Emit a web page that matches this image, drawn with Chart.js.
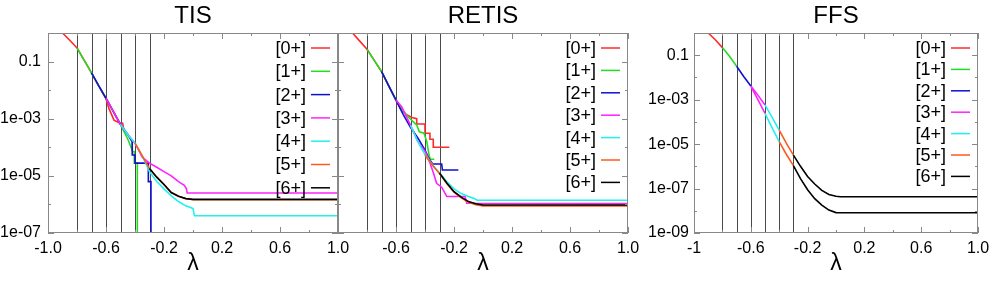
<!DOCTYPE html>
<html>
<head>
<meta charset="utf-8">
<script src="https://cdn.jsdelivr.net/npm/chart.js@4/dist/chart.umd.min.js"></script>
<style>
  html, body { margin: 0; padding: 0; background: #fff; width: 994px; height: 284px; overflow: hidden; }
  .panel { position: absolute; top: 0; height: 284px; }
</style>
</head>
<body>
<div class="panel" style="left:0;width:360px"><canvas id="tis" width="360" height="284"></canvas></div>
<div class="panel" style="left:320px;width:330px"><canvas id="retis" width="330" height="284"></canvas></div>
<div class="panel" style="left:640px;width:360px"><canvas id="ffs" width="360" height="284"></canvas></div>
<script>
// ── Data ─────────────────────────────────────────────────────
const SERIES_LABELS = ['[0+]', '[1+]', '[2+]', '[3+]', '[4+]', '[5+]', '[6+]'];
const SERIES_COLORS = ['#ff2a2a', '#22dd22', '#1010d0', '#ff22ff', '#22f0f0', '#ff5a1e', '#000000'];
const INTERFACES = [-0.8, -0.7, -0.6, -0.5, -0.4, -0.3];
const X_TICKS = [-1, -0.8, -0.6, -0.4, -0.2, 0, 0.2, 0.4, 0.6, 0.8, 1];
const X_LABELS_TIS   = ['-1.0', '', '-0.6', '', '-0.2', '', '0.2', '', '0.6', '', '1.0'];
const X_LABELS_RETIS = ['', '', '-0.6', '', '-0.2', '', '0.2', '', '0.6', '', '1.0'];
const X_LABELS_FFS   = ['-1', '', '-0.6', '', '-0.2', '', '0.2', '', '0.6', '', '1.0'];
const Y_TICKS_7 = [1, 1e-1, 1e-2, 1e-3, 1e-4, 1e-5, 1e-6, 1e-7];
const Y_TICKS_9 = [1, 1e-1, 1e-2, 1e-3, 1e-4, 1e-5, 1e-6, 1e-7, 1e-8, 1e-9];
const Y_LABELS = { 0.1: '0.1', 1e-3: '1e-03', 1e-5: '1e-05', 1e-7: '1e-07', 1e-9: '1e-09' };

// TIS  — [lambda, P]
const TIS_0 = [[-0.9,1],[-0.85,0.56],[-0.8,0.30],[-0.75,0.11],[-0.7,0.040],[-0.65,0.014],[-0.6,5.0e-3],[-0.58,2.3e-3],[-0.545,8.9e-4],[-0.51,7.2e-4],[-0.485,7.0e-4],[-0.475,3.5e-4]];
const TIS_1 = [[-0.8,0.30],[-0.75,0.11],[-0.7,0.040],[-0.65,0.014],[-0.6,5.2e-3],[-0.55,1.8e-3],[-0.5,6.3e-4],[-0.447,1.8e-4],[-0.416,7.1e-5],[-0.405,7.1e-5],[-0.405,2.8e-5],[-0.384,2.8e-5],[-0.384,1e-9]];
const TIS_2 = [[-0.7,0.040],[-0.65,0.014],[-0.6,5.2e-3],[-0.55,1.8e-3],[-0.5,6.3e-4],[-0.45,2.8e-4],[-0.42,1.6e-4],[-0.419,5.4e-5],[-0.4,5.4e-5],[-0.4,2.8e-5],[-0.308,2.8e-5],[-0.308,6.3e-6],[-0.29,6.3e-6],[-0.29,1e-9]];
const TIS_3 = [[-0.6,5.2e-3],[-0.55,1.8e-3],[-0.5,6.3e-4],[-0.45,2.8e-4],[-0.4,1.4e-4],[-0.35,4.5e-5],[-0.3,2.8e-5],[-0.25,2.0e-5],[-0.2,1.4e-5],[-0.15,1.0e-5],[-0.1,6.3e-6],[-0.06,4.7e-6],[-0.045,3.5e-6],[-0.04,2.5e-6],[1.0,2.5e-6]];
const TIS_4 = [[-0.5,6.3e-4],[-0.45,2.8e-4],[-0.4,1.4e-4],[-0.35,5.0e-5],[-0.3,1.4e-5],[-0.25,6.3e-6],[-0.2,3.5e-6],[-0.15,2.0e-6],[-0.1,1.26e-6],[-0.05,8.9e-7],[-0.02,7.9e-7],[0.0,7.1e-7],[0.01,4.0e-7],[1.0,4.0e-7]];
const TIS_5 = [[-0.4,1.4e-4],[-0.35,5.0e-5],[-0.3,1.8e-5],[-0.25,9.0e-6],[-0.2,5.0e-6],[-0.15,2.6e-6],[-0.1,1.95e-6],[-0.05,1.6e-6],[0,1.45e-6],[1.0,1.45e-6]];
const TIS_6 = [[-0.3,1.8e-5],[-0.25,9.0e-6],[-0.2,5.0e-6],[-0.15,2.6e-6],[-0.1,1.95e-6],[-0.05,1.6e-6],[0,1.5e-6],[1.0,1.5e-6]];

// RETIS — [lambda, P]
const RETIS_0 = [[-0.9,1],[-0.85,0.52],[-0.8,0.27],[-0.75,0.11],[-0.7,0.045],[-0.65,0.014],[-0.6,4.5e-3],[-0.57,2.3e-3],[-0.53,1.4e-3],[-0.49,1.1e-3],[-0.457,1.0e-3],[-0.457,6.5e-4],[-0.4,6.5e-4],[-0.4,3.1e-4],[-0.366,3.1e-4],[-0.366,1.9e-4],[-0.343,1.9e-4],[-0.343,1.0e-4],[-0.232,1.0e-4]];
const RETIS_1 = [[-0.8,0.27],[-0.75,0.11],[-0.7,0.045],[-0.65,0.014],[-0.6,4.5e-3],[-0.55,1.8e-3],[-0.503,1.0e-3],[-0.457,6.0e-4],[-0.439,3.5e-4],[-0.407,3.1e-4],[-0.388,1.6e-4],[-0.37,4.7e-5],[-0.366,3.8e-5],[-0.336,3.8e-5]];
const RETIS_2 = [[-0.7,0.045],[-0.65,0.014],[-0.6,4.5e-3],[-0.55,1.4e-3],[-0.5,5.0e-4],[-0.446,2.0e-4],[-0.4,7.9e-5],[-0.37,3.8e-5],[-0.347,2.6e-5],[-0.285,2.6e-5],[-0.28,1.6e-5],[-0.17,1.6e-5]];
const RETIS_3 = [[-0.6,4.5e-3],[-0.56,2.6e-3],[-0.5,6.0e-4],[-0.45,1.6e-4],[-0.4,7.1e-5],[-0.377,4.1e-5],[-0.343,1.3e-5],[-0.32,5.5e-6],[-0.285,4.0e-6],[-0.25,1.9e-6],[-0.124,1.9e-6],[-0.112,1.1e-6],[1.0,1.07e-6]];
const RETIS_4 = [[-0.5,6.0e-4],[-0.45,1.6e-4],[-0.4,5.6e-5],[-0.35,2.5e-5],[-0.3,1.26e-5],[-0.25,6.3e-6],[-0.2,3.5e-6],[-0.15,2.4e-6],[-0.1,1.9e-6],[-0.06,1.6e-6],[-0.04,1.4e-6],[1.0,1.4e-6]];
const RETIS_5 = [[-0.4,5.4e-5],[-0.35,2.4e-5],[-0.3,1.2e-5],[-0.25,5.4e-6],[-0.2,2.7e-6],[-0.15,1.7e-6],[-0.1,1.2e-6],[-0.05,9.8e-7],[0,8.9e-7],[1.0,8.9e-7]];
const RETIS_6 = [[-0.3,1.26e-5],[-0.25,5.6e-6],[-0.2,2.8e-6],[-0.15,1.8e-6],[-0.1,1.26e-6],[-0.05,1.05e-6],[0,9.5e-7],[1.0,9.5e-7]];

// FFS — two branches (upper / lower) from [3+] on
const FFS_0 = [[-0.9,1],[-0.85,0.50],[-0.8,0.22]];
const FFS_1 = [[-0.8,0.22],[-0.75,0.089],[-0.7,0.032]];
const FFS_2 = [[-0.7,0.032],[-0.65,0.011],[-0.6,4.1e-3]];
const FFS_3_UP = [[-0.6,4.1e-3],[-0.55,1.6e-3],[-0.5,5.8e-4]];
const FFS_3_LO = [[-0.6,4.1e-3],[-0.55,1.0e-3],[-0.5,2.4e-4]];
const FFS_4_UP = [[-0.5,5.8e-4],[-0.45,1.6e-4],[-0.4,4.3e-5]];
const FFS_4_LO = [[-0.5,2.4e-4],[-0.45,5.4e-5],[-0.4,1.3e-5]];
const FFS_5_UP = [[-0.4,4.3e-5],[-0.35,1.1e-5],[-0.3,3.2e-6]];
const FFS_5_LO = [[-0.4,1.3e-5],[-0.35,3.5e-6],[-0.3,1.07e-6]];
const FFS_6_UP = [[-0.3,3.2e-6],[-0.25,1.0e-6],[-0.2,3.5e-7],[-0.15,1.6e-7],[-0.1,8.3e-8],[-0.05,5.4e-8],[0,4.5e-8],[0.03,4.3e-8],[1.0,4.3e-8]];
const FFS_6_LO = [[-0.3,1.07e-6],[-0.25,2.8e-7],[-0.2,8.9e-8],[-0.15,3.5e-8],[-0.1,1.8e-8],[-0.05,1.07e-8],[0,8.3e-9],[1.0,8.1e-9]];

// ── Helpers ──────────────────────────────────────────────────
const FONT = 'Liberation Sans, Arial, Helvetica, sans-serif';
Chart.defaults.font.family = FONT;
Chart.defaults.color = '#000';

const pts = arr => arr.map(([x, y]) => ({ x, y }));
// join two branches with a gap
const branches = (up, lo) => [...pts(up), { x: up[up.length - 1][0], y: null }, ...pts(lo)];

// gnuplot look: interface lines, frame, inward ticks, title and legend
const gnuplotLook = {
  id: 'gnuplotLook',
  beforeDatasetsDraw(chart) {
    const { ctx, chartArea: a, scales: { x } } = chart;
    ctx.save();
    ctx.strokeStyle = '#4a4a4a';
    ctx.lineWidth = 1;
    INTERFACES.forEach(l => {
      const px = Math.round(x.getPixelForValue(l)) + 0.5;
      ctx.beginPath(); ctx.moveTo(px, a.top); ctx.lineTo(px, a.bottom); ctx.stroke();
    });
    ctx.restore();
  },
  afterDraw(chart, args, opts) {
    const { ctx, chartArea: a, scales: { x, y } } = chart;
    ctx.save();
    // frame
    ctx.strokeStyle = '#888';
    ctx.lineWidth = 1;
    ctx.strokeRect(a.left + 0.5, a.top + 0.5, a.right - a.left - 1, a.bottom - a.top - 1);
    // ticks
    ctx.beginPath();
    x.ticks.forEach((t, i) => {
      const px = Math.round(x.getPixelForValue(t.value)) + 0.5;
      const len = i % 2 === 0 ? 6 : 3;
      ctx.moveTo(px, a.bottom); ctx.lineTo(px, a.bottom - len);
      ctx.moveTo(px, a.top); ctx.lineTo(px, a.top + len);
    });
    y.ticks.forEach(t => {
      const py = Math.round(y.getPixelForValue(t.value)) + 0.5;
      const len = Y_LABELS[t.value] ? 6 : 3;
      ctx.moveTo(a.left, py); ctx.lineTo(a.left + len, py);
      ctx.moveTo(a.right, py); ctx.lineTo(a.right - len, py);
    });
    ctx.stroke();
    // title
    ctx.fillStyle = '#000';
    ctx.font = '24px ' + FONT;
    ctx.textAlign = 'center';
    ctx.textBaseline = 'middle';
    ctx.fillText(opts.title, (a.left + a.right) / 2, 16);
    // legend
    ctx.font = '18px ' + FONT;
    ctx.textAlign = 'right';
    ctx.lineWidth = 1.5;
    chart.data.datasets.forEach((ds, i) => {
      const ly = a.top + 15 + i * opts.legendStep;
      ctx.fillStyle = '#000';
      ctx.fillText(ds.label, a.right - 32, ly + 1);
      ctx.strokeStyle = ds.borderColor;
      ctx.beginPath(); ctx.moveTo(a.right - 27, ly); ctx.lineTo(a.right - 8, ly); ctx.stroke();
    });
    ctx.restore();
  }
};

function makePanel(id, cfg) {
  return new Chart(document.getElementById(id), {
    type: 'line',
    data: {
      datasets: cfg.series.map((data, i) => ({
        label: SERIES_LABELS[i], data,
        borderColor: SERIES_COLORS[i], backgroundColor: SERIES_COLORS[i],
        borderWidth: 1.6, pointRadius: 0, tension: 0, order: 10 - i,
      })),
    },
    options: {
      responsive: false, animation: false, devicePixelRatio: 1,
      layout: { padding: { top: 33, right: 22, left: 0, bottom: 0 } },
      plugins: {
        legend: { display: false }, tooltip: { enabled: false }, title: { display: false },
        gnuplotLook: { title: cfg.title, legendStep: cfg.legendStep },
      },
      scales: {
        x: {
          type: 'linear', min: -1, max: 1,
          afterBuildTicks: s => { s.ticks = X_TICKS.map(v => ({ value: v })); },
          afterFit: s => { s.height = 51; },
          ticks: { autoSkip: false, maxRotation: 0, padding: 6, font: { size: 16 }, callback: (v, i) => cfg.xLabels[i] },
          grid: { display: false, drawTicks: false }, border: { display: false },
          title: { display: true, text: 'λ', font: { size: 23 }, padding: { top: 0, bottom: 7 } },
        },
        y: {
          type: 'logarithmic', min: cfg.yMin, max: 1,
          afterBuildTicks: s => { s.ticks = cfg.yTicks.map(v => ({ value: v })); },
          afterFit: s => { s.width = cfg.yWidth; },
          ticks: { display: cfg.showY, padding: cfg.yPad, font: { size: 16 }, callback: v => Y_LABELS[v] || '' },
          grid: { display: false, drawTicks: false }, border: { display: false },
        },
      },
    },
    plugins: [gnuplotLook],
  });
}

makePanel('tis', {
  title: 'TIS', legendStep: 23.3, xLabels: X_LABELS_TIS, yMin: 1e-7, yTicks: Y_TICKS_7,
  yWidth: 48, yPad: 7, showY: true,
  series: [TIS_0, TIS_1, TIS_2, TIS_3, TIS_4, TIS_5, TIS_6].map(pts),
});
makePanel('retis', {
  title: 'RETIS', legendStep: 22.4, xLabels: X_LABELS_RETIS, yMin: 1e-7, yTicks: Y_TICKS_7,
  yWidth: 18, yPad: 8, showY: false,
  series: [RETIS_0, RETIS_1, RETIS_2, RETIS_3, RETIS_4, RETIS_5, RETIS_6].map(pts),
});
makePanel('ffs', {
  title: 'FFS', legendStep: 21.4, xLabels: X_LABELS_FFS, yMin: 1e-9, yTicks: Y_TICKS_9,
  yWidth: 54, yPad: 5, showY: true,
  series: [pts(FFS_0), pts(FFS_1), pts(FFS_2),
    branches(FFS_3_UP, FFS_3_LO), branches(FFS_4_UP, FFS_4_LO),
    branches(FFS_5_UP, FFS_5_LO), branches(FFS_6_UP, FFS_6_LO)],
});
</script>
</body>
</html>
